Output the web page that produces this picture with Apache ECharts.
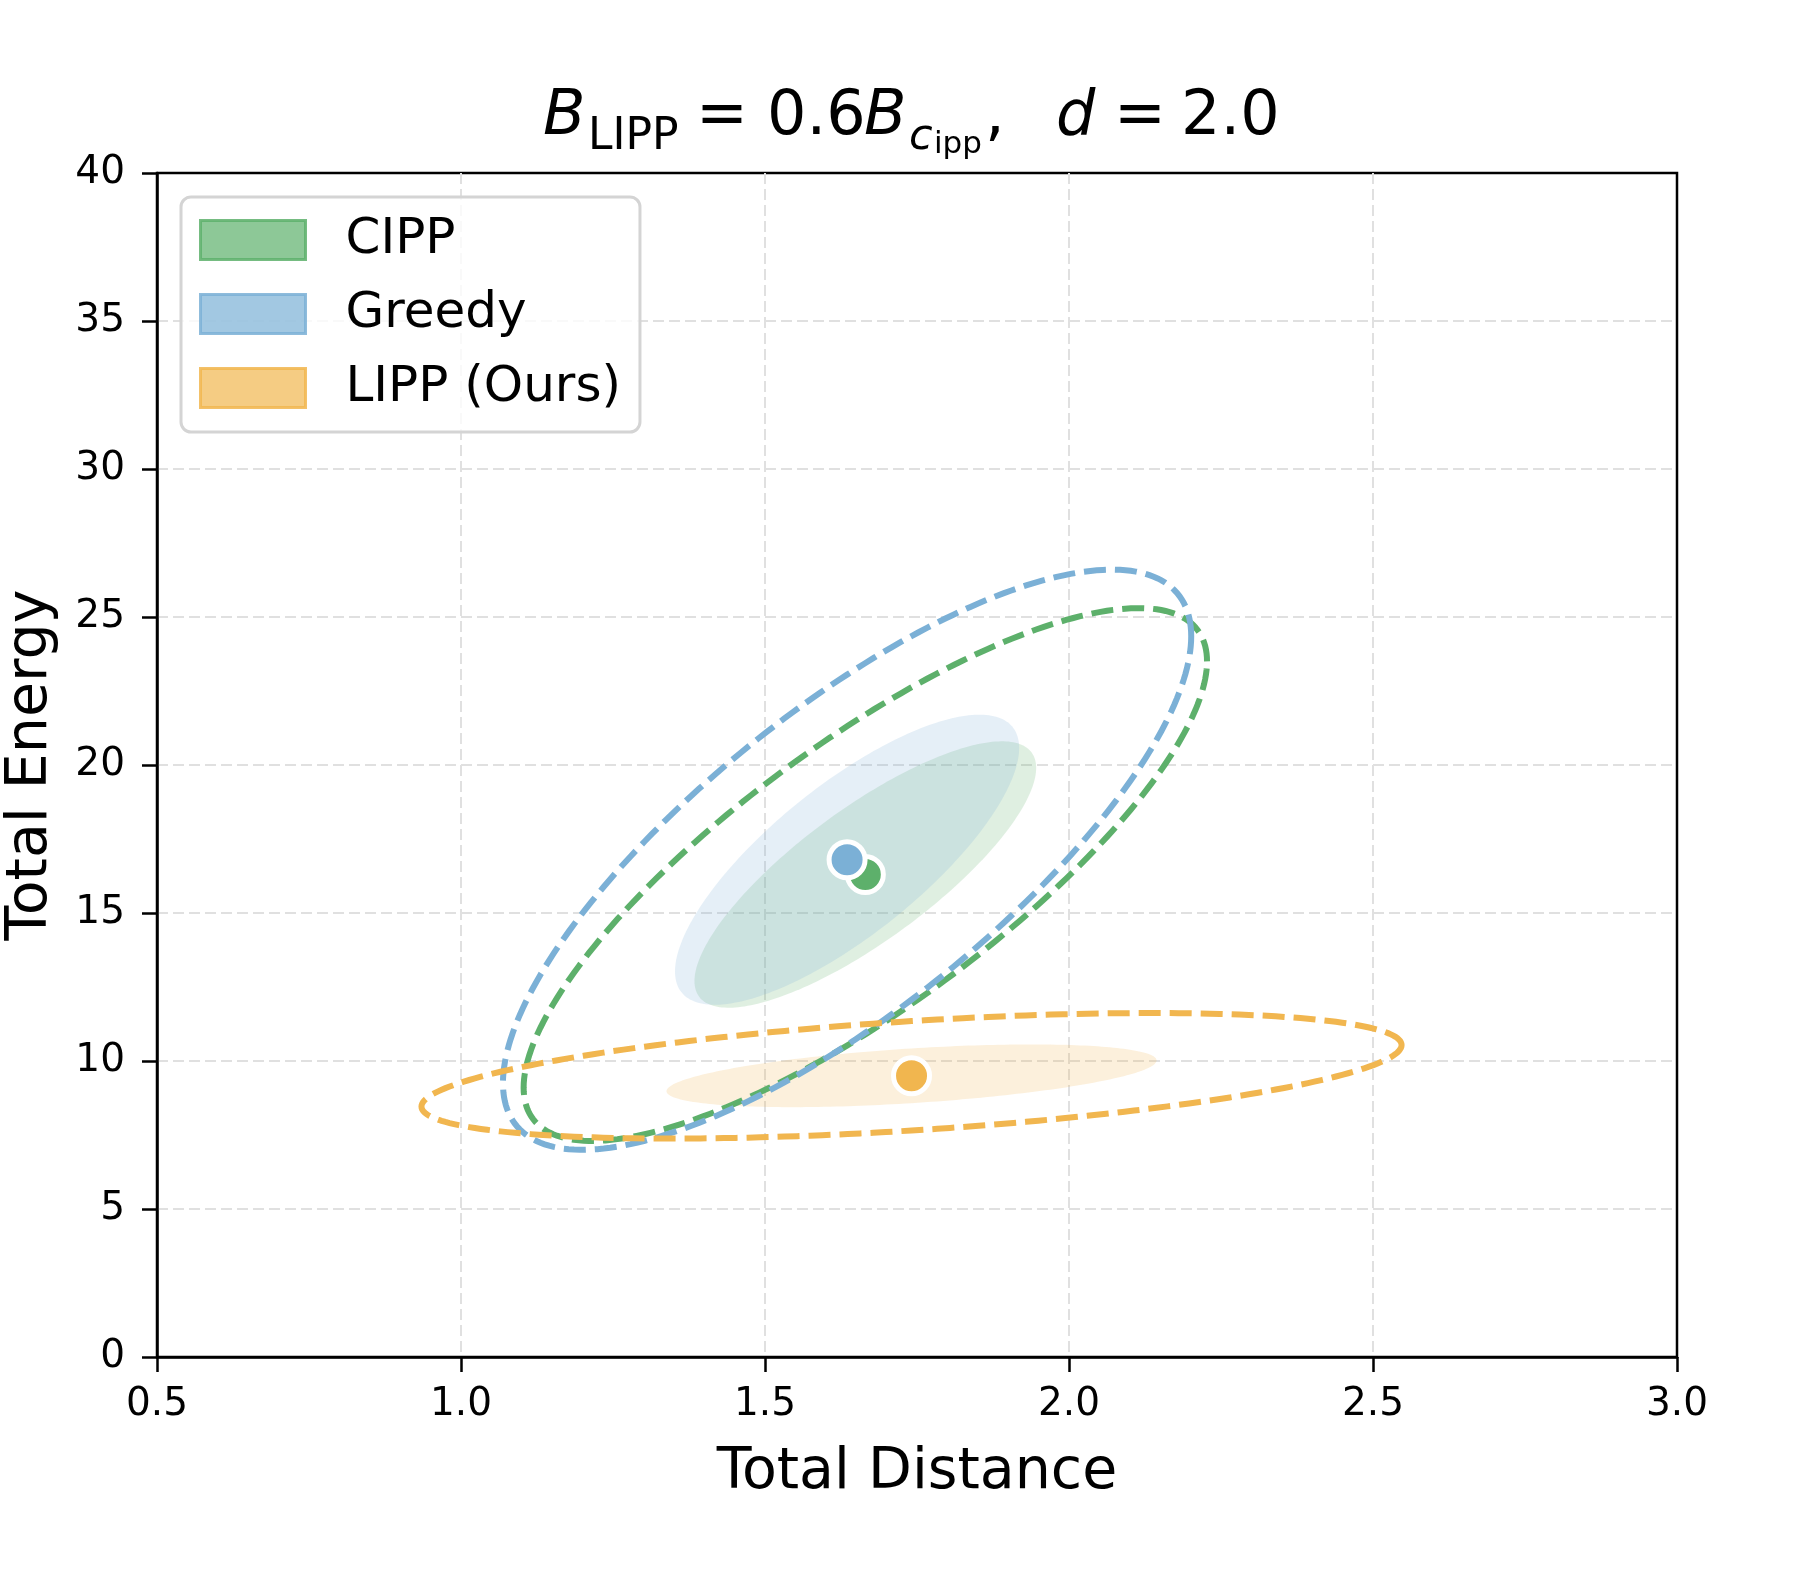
<!DOCTYPE html>
<html>
<head>
<meta charset="utf-8">
<script src="https://cdn.jsdelivr.net/npm/echarts@6/dist/echarts.min.js"></script>
<style>
  html, body { margin: 0; padding: 0; background: #fff; }
  #chart { width: 1800px; height: 1590px; }
</style>
</head>
<body>
<div id="chart"></div>
<script>
// methods and their colours
const methods = ['CIPP', 'Greedy', 'LIPP (Ours)']
const colors = ['#5DB06B', '#7BB0D6', '#F1B64F']

// mean of each method (dots)
const meanDistance = [1.665, 1.635, 1.741]
const meanEnergy = [16.3, 16.8, 9.5]

// spread of each method (ellipses)
const sdDistance = [0.281, 0.283, 0.403]
const sdEnergy = [4.5, 4.9, 1.06]
const correlation = [0.80, 0.77, 0.49]

// filled ellipse = 1 sd, dashed ellipse = 2 sd
const filledLevel = 1
const dashedLevel = 2

// axes
const xMin = 0.5, xMax = 3.0, xStep = 0.5
const yMin = 0, yMax = 40, yStep = 5

const font = 'DejaVu Sans'

function rgba(hex, a) {
    const n = parseInt(hex.slice(1), 16)
    return 'rgba(' + (n >> 16) + ',' + ((n >> 8) & 255) + ',' + (n & 255) + ',' + a + ')'
}

function ellipsePoints(i, k, api) {
    const pts = []
    const r = Math.sqrt(1 - correlation[i] * correlation[i])
    const n = 240
    for (let j = 0; j < n; j++) {
        const t = 2 * Math.PI * j / n
        pts.push(api.coord([
            meanDistance[i] + k * sdDistance[i] * Math.cos(t),
            meanEnergy[i] + k * sdEnergy[i] * (correlation[i] * Math.cos(t) + r * Math.sin(t))
        ]))
    }
    return pts
}

const series = []
methods.forEach((name, i) => {
    series.push({
        name: name,
        type: 'custom',
        z: 1,
        silent: true,
        clip: true,
        data: [[meanDistance[i], meanEnergy[i]]],
        renderItem: (params, api) => ({
            type: 'polygon',
            shape: { points: ellipsePoints(i, filledLevel, api) },
            style: { fill: rgba(colors[i], 0.2), stroke: 'none' }
        })
    })
})
methods.forEach((name, i) => {
    series.push({
        name: name,
        type: 'custom',
        z: 2,
        silent: true,
        clip: true,
        data: [[meanDistance[i], meanEnergy[i]]],
        renderItem: (params, api) => ({
            type: 'polygon',
            shape: { points: ellipsePoints(i, dashedLevel, api) },
            style: { fill: 'none', stroke: colors[i], lineWidth: 6, lineDash: [22, 9] }
        })
    })
})
methods.forEach((name, i) => {
    series.push({
        name: name,
        type: 'scatter',
        z: 3,
        symbol: 'circle',
        symbolSize: 36,
        itemStyle: { color: colors[i], borderColor: '#fff', borderWidth: 5, opacity: 1 },
        data: [[meanDistance[i], meanEnergy[i]]]
    })
})

// title tokens (math style), widths set the spacing
function tok(size, w, extra) {
    return Object.assign({
        fontFamily: font, fontWeight: 'normal', color: '#000', verticalAlign: 'top',
        fontSize: size, lineHeight: size, width: w, align: 'left'
    }, extra || {})
}

const chart = echarts.init(document.getElementById('chart'))
chart.setOption({
    animation: false,
    backgroundColor: '#fff',
    title: {
        left: 543,
        top: 87,
        padding: 0,
        text: '{b1|B}{s1|LIPP}{e1|=}{n1|0.6}{b2|B}{s2|c}{ss|ipp}{cm|,}{d|d}{e2|=}{n2|2.0}',
        textStyle: {
            fontFamily: font,
            fontWeight: 'normal',
            rich: {
                b1: tok(62, 45, { fontStyle: 'italic' }),
                s1: tok(44, 108, { padding: [29, 0, 0, 0] }),
                e1: tok(62, 71),
                n1: tok(62, 97),
                b2: tok(62, 45, { fontStyle: 'italic' }),
                s2: tok(43, 25, { fontStyle: 'italic', padding: [29, 0, 0, 0] }),
                ss: tok(31, 51, { padding: [42, 0, 0, 0] }),
                cm: tok(62, 71),
                d: tok(62, 58, { fontStyle: 'italic' }),
                e2: tok(62, 67),
                n2: tok(62, 100)
            }
        }
    },
    legend: {
        orient: 'vertical',
        left: 181,
        top: 197,
        padding: [18, 19, 19, 18],
        itemWidth: 105,
        itemHeight: 39,
        itemGap: 24,
        selectedMode: false,
        backgroundColor: 'rgba(255,255,255,0.8)',
        borderColor: '#d4d4d4',
        borderWidth: 3,
        borderRadius: 10,
        icon: 'rect',
        textStyle: { fontFamily: font, fontSize: 50, color: '#000', padding: [0, 0, 0, 35] },
        data: methods.map((name, i) => ({
            name: name,
            icon: 'rect',
            itemStyle: { color: rgba(colors[i], 0.7), borderColor: rgba(colors[i], 0.85), borderWidth: 3 }
        }))
    },
    grid: {
        left: 157,
        right: 123,
        top: 173,
        bottom: 233,
        outerBoundsMode: 'none',
        containLabel: false,
        show: true,
        borderColor: '#000',
        borderWidth: 2.5,
        backgroundColor: 'transparent'
    },
    xAxis: {
        type: 'value',
        min: xMin,
        max: xMax,
        interval: xStep,
        name: 'Total Distance',
        nameLocation: 'middle',
        nameGap: 88,
        nameTextStyle: { fontFamily: font, fontSize: 57, color: '#000' },
        axisLine: { show: true, lineStyle: { color: '#000', width: 2.5 } },
        axisTick: { show: true, length: 15, lineStyle: { color: '#000', width: 2.5 } },
        axisLabel: {
            margin: 28,
            fontFamily: font,
            fontSize: 39,
            color: '#000',
            formatter: v => v.toFixed(1)
        },
        splitLine: { show: true, showMinLine: false, showMaxLine: false, lineStyle: { color: '#e0e0e0', width: 2, type: [11, 5] } }
    },
    yAxis: {
        type: 'value',
        min: yMin,
        max: yMax,
        interval: yStep,
        name: 'Total Energy',
        nameLocation: 'middle',
        nameGap: 97,
        nameRotate: 90,
        nameTextStyle: { fontFamily: font, fontSize: 57, color: '#000' },
        axisLine: { show: true, lineStyle: { color: '#000', width: 2.5 } },
        axisTick: { show: true, length: 15, lineStyle: { color: '#000', width: 2.5 } },
        axisLabel: { margin: 32, fontFamily: font, fontSize: 39, color: '#000' },
        splitLine: { show: true, showMinLine: false, showMaxLine: false, lineStyle: { color: '#e0e0e0', width: 2, type: [11, 5] } }
    },
    series: series
})
</script>
</body>
</html>
